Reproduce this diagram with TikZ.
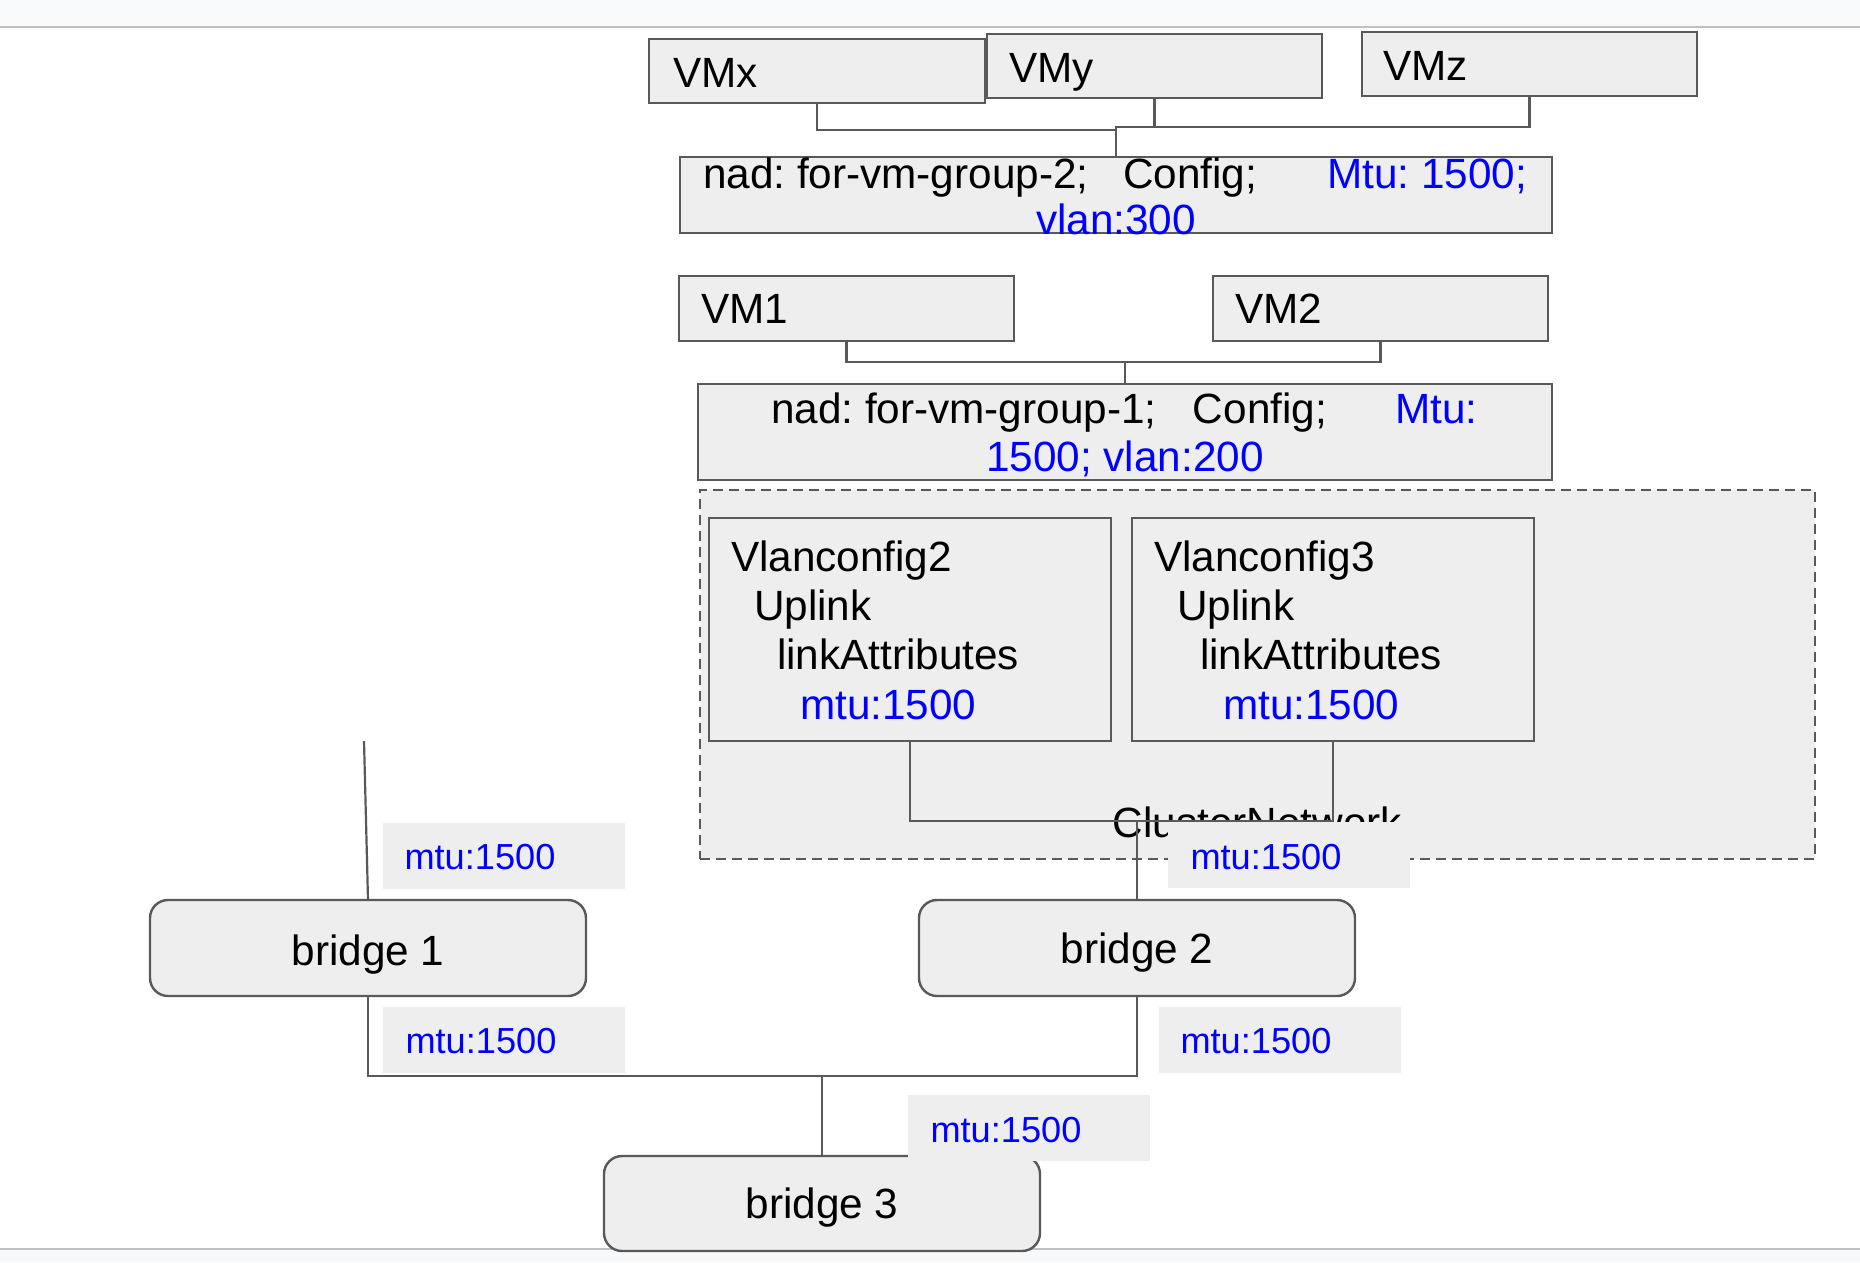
\documentclass[tikz,border=0pt]{standalone}
\usepackage{fontspec}
\setmainfont{Liberation Sans}
\usetikzlibrary{calc}
\definecolor{boxfill}{HTML}{EEEEEE}
\definecolor{linec}{HTML}{595959}
\definecolor{bandc}{HTML}{F8F9FA}
\definecolor{bandline}{HTML}{C0C0C0}
\definecolor{txtblue}{HTML}{0000FF}
\frenchspacing
\begin{document}
\begin{tikzpicture}[x=1pt,y=-1pt,
  box/.style={draw=linec, fill=boxfill, line width=2.4pt, inner sep=0pt, outer sep=0pt, rectangle},
  bridgebox/.style={box, rounded corners=18pt, minimum width=436pt, minimum height=96pt},
  labbox/.style={fill=boxfill, inner sep=0pt, outer sep=0pt, minimum width=242pt, minimum height=66pt, anchor=north west},
  big/.style={font=\fontsize{42.3pt}{48pt}\selectfont, inner sep=0pt, outer sep=0pt, text=black},
  small/.style={font=\fontsize{36.2pt}{40pt}\selectfont, inner sep=0pt, outer sep=0pt, text=txtblue, anchor=base west},
  conn/.style={draw=linec, line width=2.2pt}]
\useasboundingbox (0,0) rectangle (1860,1262);
% bands
\fill[bandc] (0,0) rectangle (1860,26);
\draw[bandline, line width=2pt] (0,27) -- (1860,27);
\fill[bandc] (0,1249) rectangle (1860,1262);
\draw[bandline, line width=2pt] (0,1249) -- (1860,1249);
% cluster network
\node[draw=linec, fill=boxfill, line width=2.2pt, dash pattern=on 10pt off 6pt, inner sep=0pt, outer sep=0pt,
      minimum width=1115pt, minimum height=369pt, anchor=north west] (cluster) at (700,490) {};
\node[big, anchor=base] (clt) at (1257.5,837) {ClusterNetwork};
% VM group 2
\node[box, minimum width=336pt, minimum height=64pt] (vmx) at (817,71) {};
\node[box, minimum width=335pt, minimum height=64pt] (vmy) at (1154.5,66) {};
\node[box, minimum width=335pt, minimum height=64pt] (vmz) at (1529.5,64) {};
\node[big, anchor=base west] (vmxt) at (673,87) {VMx};
\node[big, anchor=base west] (vmyt) at (1009.5,82) {VMy};
\node[big, anchor=base west] (vmzt) at (1383.5,80) {VMz};
\node[box, minimum width=872pt, minimum height=76pt] (nad2) at (1116,195) {};
\node[big, anchor=base west] (nad2a) at (703,188) {nad: for-vm-group-2;\hspace{34.5pt}Config;\hspace{70pt}\textcolor{txtblue}{Mtu: 1500;}};
\node[big, anchor=base, text=txtblue] (nad2b) at (1116,234) {vlan:300};
% VM group 1
\node[box, minimum width=335pt, minimum height=65pt] (vm1) at (846.5,308.5) {};
\node[box, minimum width=335pt, minimum height=65pt] (vm2) at (1380.5,308.5) {};
\node[big, anchor=base west] (vm1t) at (701.5,323) {VM1};
\node[big, anchor=base west] (vm2t) at (1235,323) {VM2};
\node[box, minimum width=854pt, minimum height=96pt] (nad1) at (1125,432) {};
\node[big, anchor=base west] (nad1a) at (771,423) {nad: for-vm-group-1;\hspace{36.5pt}Config;\hspace{68pt}\textcolor{txtblue}{Mtu:}};
\node[big, anchor=base, text=txtblue] (nad1b) at (1125,471) {1500; vlan:200};
% vlanconfigs
\node[box, minimum width=402pt, minimum height=223pt] (vc2) at (910,629.5) {};
\node[box, minimum width=402pt, minimum height=223pt] (vc3) at (1333,629.5) {};
\node[big, anchor=base west] (vc2a) at (731,571) {Vlanconfig2};
\node[big, anchor=base west] (vc2b) at (754,620) {Uplink};
\node[big, anchor=base west] (vc2c) at (777,669) {linkAttributes};
\node[big, anchor=base west, text=txtblue] (vc2d) at (800,719) {mtu:1500};
\node[big, anchor=base west] (vc3a) at (1154,571) {Vlanconfig3};
\node[big, anchor=base west] (vc3b) at (1177,620) {Uplink};
\node[big, anchor=base west] (vc3c) at (1200,669) {linkAttributes};
\node[big, anchor=base west, text=txtblue] (vc3d) at (1223,719) {mtu:1500};
% bridges
\node[bridgebox] (br1) at (368,948) {};
\node[bridgebox] (br2) at (1137,948) {};
\node[bridgebox, minimum height=95pt] (br3) at (822,1203.5) {};
\node[big, anchor=base] (br1t) at (368,965) {bridge 1};
\node[big, anchor=base] (br2t) at (1137,963) {bridge 2};
\node[big, anchor=base] (br3t) at (822,1218) {bridge 3};
% connectors
\draw[conn] (vmx.south) |- ($(nad2.north)+(0,-27)$) -- (nad2.north);
\draw[conn] (vmy.south) |- ($(nad2.north)+(0,-30)$) -- (nad2.north);
\draw[conn] (vmz.south) |- ($(nad2.north)+(0,-30)$);
\draw[conn] (vm1.south) |- ($(nad1.north)+(0,-22)$) -- (nad1.north);
\draw[conn] (vm2.south) |- ($(nad1.north)+(0,-22)$);
\coordinate (jc) at ($(br2.north)+(0,-79)$);
\draw[conn] (vc2.south) |- (jc) -| (vc3.south);
\draw[conn] (jc) -- (br2.north);
\coordinate (b1top) at (364,741);
\draw[conn] (b1top) -- (br1.north);
\coordinate (jb) at ($(br3.north)+(0,-80)$);
\draw[conn] (br1.south) |- (jb) -| (br2.south);
\draw[conn] (jb) -- (br3.north);
% mtu labels
\node[labbox] (l1) at (383,823) {};
\node[small] (l1t) at (404.5,869) {mtu:1500};
\node[labbox] (l2) at (1168,822) {};
\node[small] (l2t) at (1190.5,869) {mtu:1500};
\node[labbox] (l3) at (383,1007) {};
\node[small] (l3t) at (405.5,1053) {mtu:1500};
\node[labbox] (l4) at (1159,1007) {};
\node[small] (l4t) at (1180.5,1053) {mtu:1500};
\node[labbox] (l5) at (908,1095) {};
\node[small] (l5t) at (930.5,1142) {mtu:1500};
\end{tikzpicture}
\end{document}
